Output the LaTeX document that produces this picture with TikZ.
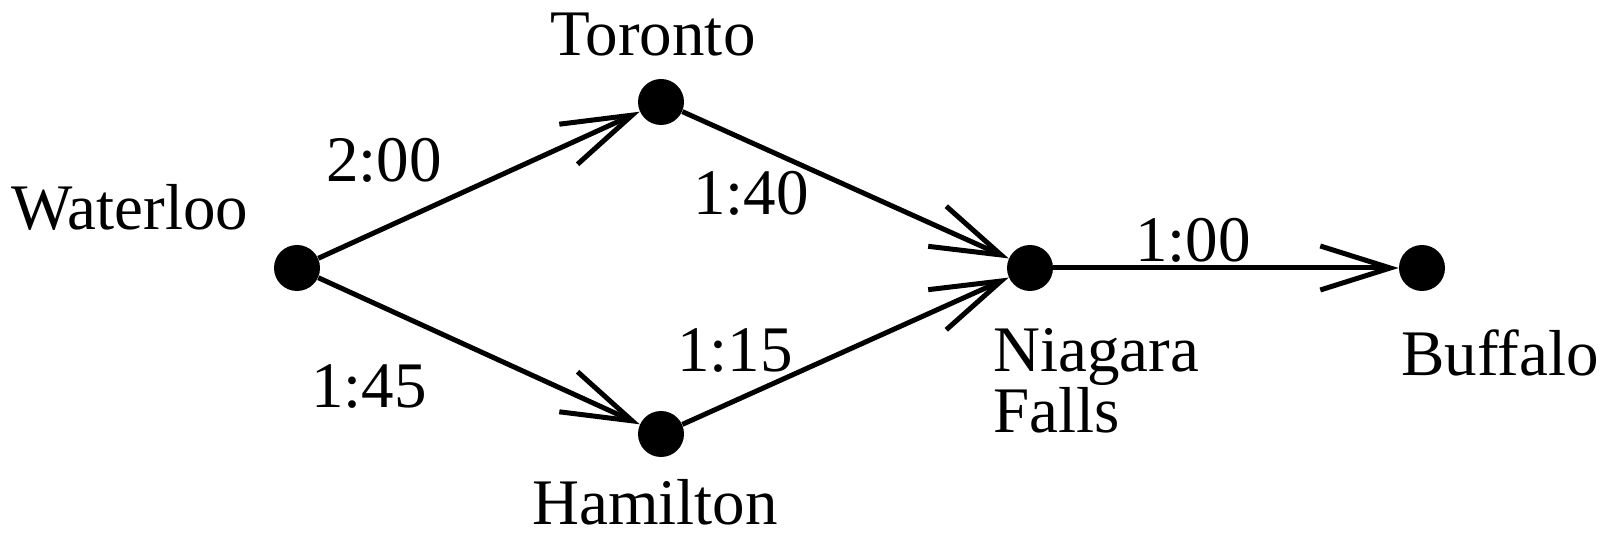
\documentclass[tikz,border=0pt]{standalone}
\usepackage{fontspec}
\setmainfont{Liberation Serif}
\usetikzlibrary{arrows.meta}
\tikzset{
  town/.style={circle, fill=black, inner sep=0pt, minimum size=23pt},
  road/.style={line width=2.5pt, -{Straight Barb[length=35pt, width=22pt, line width=2.5pt]}},
  lbl/.style={anchor=base, inner sep=0pt, font=\fontsize{32.5}{29}\selectfont},
}
\begin{document}
\begin{tikzpicture}[x=0.5pt, y=-0.5pt]
  \useasboundingbox (0,0) rectangle (1606,539);
  % towns
  \node[town] (wat) at (297,268) {};
  \node[town] (tor) at (661,102) {};
  \node[town] (ham) at (661,434) {};
  \node[town] (nia) at (1030,268) {};
  \node[town] (buf) at (1422,268) {};
  % roads
  \draw[road] (wat) -- (tor);
  \draw[road] (wat) -- (ham);
  \draw[road] (tor) -- (nia);
  \draw[road] (ham) -- (nia);
  \draw[road] (nia) -- (buf);
  % town names
  \node[lbl] (twat) at (130,230) {Waterloo};
  \node[lbl] (ttor) at (653,56) {Toronto};
  \node[lbl] (tham) at (655,524) {Hamilton};
  \node[lbl] (tbuf) at (1500,376) {Buffalo};
  \node[lbl, anchor=north west, align=left] (tnia) at (993,328) {Niagara\\Falls};
  % travel times
  \node[lbl] (d1) at (384,182) {2:00};
  \node[lbl] (d2) at (369,408) {1:45};
  \node[lbl] (d3) at (751,215) {1:40};
  \node[lbl] (d4) at (735,372) {1:15};
  \node[lbl] (d5) at (1193,262) {1:00};
\end{tikzpicture}
\end{document}
